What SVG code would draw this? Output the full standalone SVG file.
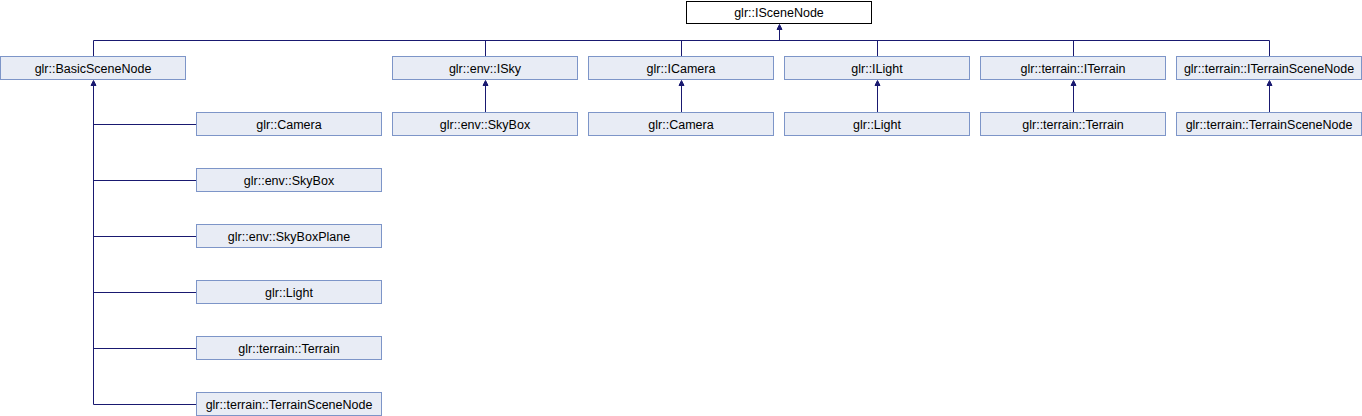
<svg xmlns="http://www.w3.org/2000/svg" width="1362" height="416" viewBox="0 0 1362 416">
<style>
.n rect{fill:#e8ecf5;stroke:#7d95c8;stroke-width:1}
.r rect{fill:#ffffff;stroke:#000000;stroke-width:1}
text{font-family:"Liberation Sans",Arial,sans-serif;font-size:12.5px;fill:#000;text-anchor:middle}
.e path{fill:none;stroke:#191970;stroke-width:1}
.e polygon{fill:#191970;stroke:#191970;stroke-width:1}
</style>
<rect width="1362" height="416" fill="#ffffff"/>
<g class="e" id="connectors">
<path d="M779.5 29 V40.5 M93.5 40.5 H1269.5 M93.5 40.5 V56 M485.5 40.5 V56 M681.5 40.5 V56 M877.5 40.5 V56 M1073.5 40.5 V56 M1269.5 40.5 V56"/>
<polygon points="779.5,24.5 777,29.5 782,29.5"/>
<path d="M485.5 85 V112 M681.5 85 V112 M877.5 85 V112 M1073.5 85 V112 M1269.5 85 V112"/>
<polygon points="485.5,80.5 483,85.5 488,85.5"/>
<polygon points="681.5,80.5 679,85.5 684,85.5"/>
<polygon points="877.5,80.5 875,85.5 880,85.5"/>
<polygon points="1073.5,80.5 1071,85.5 1076,85.5"/>
<polygon points="1269.5,80.5 1267,85.5 1272,85.5"/>
<path d="M93.5 85 V404.5 M93.5 124.5 H196 M93.5 180.5 H196 M93.5 236.5 H196 M93.5 292.5 H196 M93.5 348.5 H196 M93.5 404.5 H196"/>
<polygon points="93.5,80.5 91,85.5 96,85.5"/>
</g>
<g id="ISceneNode" class="r"><rect x="686.5" y="1.5" width="185" height="22"/><text x="779" y="17">glr::ISceneNode</text></g>
<g id="BasicSceneNode" class="n"><rect x="0.5" y="56.5" width="185" height="23"/><text x="93" y="72.5">glr::BasicSceneNode</text></g>
<g id="ISky" class="n"><rect x="392.5" y="56.5" width="185" height="23"/><text x="485" y="72.5">glr::env::ISky</text></g>
<g id="ICamera" class="n"><rect x="588.5" y="56.5" width="185" height="23"/><text x="681" y="72.5">glr::ICamera</text></g>
<g id="ILight" class="n"><rect x="784.5" y="56.5" width="185" height="23"/><text x="877" y="72.5">glr::ILight</text></g>
<g id="ITerrain" class="n"><rect x="980.5" y="56.5" width="185" height="23"/><text x="1073" y="72.5">glr::terrain::ITerrain</text></g>
<g id="ITerrainSceneNode" class="n"><rect x="1176.5" y="56.5" width="185" height="23"/><text x="1269" y="72.5">glr::terrain::ITerrainSceneNode</text></g>
<g id="SkyBox2" class="n"><rect x="392.5" y="112.5" width="185" height="23"/><text x="485" y="128.5">glr::env::SkyBox</text></g>
<g id="Camera2" class="n"><rect x="588.5" y="112.5" width="185" height="23"/><text x="681" y="128.5">glr::Camera</text></g>
<g id="Light2" class="n"><rect x="784.5" y="112.5" width="185" height="23"/><text x="877" y="128.5">glr::Light</text></g>
<g id="Terrain2" class="n"><rect x="980.5" y="112.5" width="185" height="23"/><text x="1073" y="128.5">glr::terrain::Terrain</text></g>
<g id="TerrainSceneNode2" class="n"><rect x="1176.5" y="112.5" width="185" height="23"/><text x="1269" y="128.5">glr::terrain::TerrainSceneNode</text></g>
<g id="Camera1" class="n"><rect x="196.5" y="112.5" width="185" height="23"/><text x="289" y="128.5">glr::Camera</text></g>
<g id="SkyBox1" class="n"><rect x="196.5" y="168.5" width="185" height="23"/><text x="289" y="184.5">glr::env::SkyBox</text></g>
<g id="SkyBoxPlane1" class="n"><rect x="196.5" y="224.5" width="185" height="23"/><text x="289" y="240.5">glr::env::SkyBoxPlane</text></g>
<g id="Light1" class="n"><rect x="196.5" y="280.5" width="185" height="23"/><text x="289" y="296.5">glr::Light</text></g>
<g id="Terrain1" class="n"><rect x="196.5" y="336.5" width="185" height="23"/><text x="289" y="352.5">glr::terrain::Terrain</text></g>
<g id="TerrainSceneNode1" class="n"><rect x="196.5" y="392.5" width="185" height="23"/><text x="289" y="408.5">glr::terrain::TerrainSceneNode</text></g>
</svg>
